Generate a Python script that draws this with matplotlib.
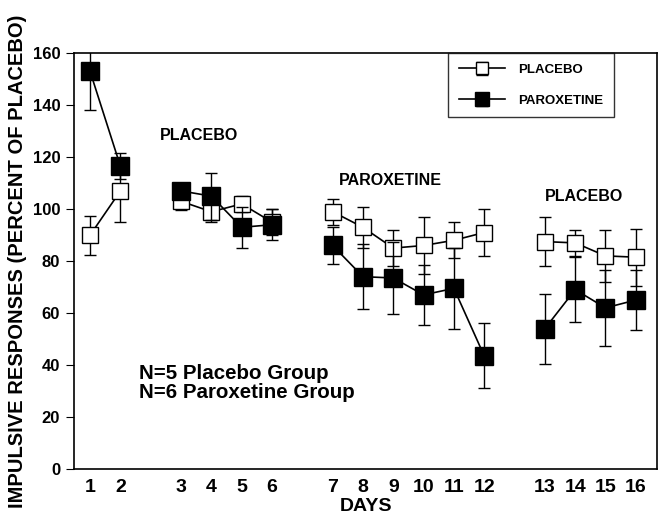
import matplotlib
matplotlib.use("Agg")
import matplotlib.pyplot as plt

plt.rcParams['font.family'] = ['Liberation Sans', 'DejaVu Sans']
plt.rcParams['font.weight'] = 'bold'

# days and their plotted slot (gaps between phases)
days = list(range(1, 17))
slots = [1, 2, 4, 5, 6, 7, 9, 10, 11, 12, 13, 14, 16, 17, 18, 19]
phases = [(0, 2), (2, 6), (6, 12), (12, 16)]

placebo = [90, 107, 103, 99, 102, 95, 99, 93, 85, 86, 88, 91, 87.5, 87, 82, 81.5]
placebo_err = [7.5, 12, 3.5, 4, 3, 5, 5, 8, 7, 11, 7, 9, 9.5, 5, 10, 11]
parox = [153, 116.5, 107, 105, 93, 94, 86, 74, 73.5, 67, 69.5, 43.5, 54, 69, 62, 65]
parox_err = [15, 5, 3, 9, 8, 6, 7, 12.5, 14, 11.5, 15.5, 12.5, 13.5, 12.5, 14.5, 11.5]

fig = plt.figure(figsize=(6.61, 5.17), dpi=100)
ax = fig.add_axes([0.112, 0.093, 0.882, 0.804])

for i, (a, b) in enumerate(phases):
    ax.errorbar(slots[a:b], placebo[a:b], yerr=placebo_err[a:b], color='black',
                marker='s', markersize=11, markerfacecolor='white', markeredgecolor='black',
                markeredgewidth=1, linewidth=1.2, elinewidth=1, capsize=4,
                label='PLACEBO' if i == 0 else None, zorder=3)
    ax.errorbar(slots[a:b], parox[a:b], yerr=parox_err[a:b], color='black',
                marker='s', markersize=12.5, markerfacecolor='black', markeredgecolor='black',
                linewidth=1.2, elinewidth=1, capsize=4,
                label='PAROXETINE' if i == 0 else None, zorder=4)

ax.set_xlim(0.47, 19.7)
ax.set_ylim(0, 160)
ax.set_xticks(slots)
ax.set_xticklabels([str(d) for d in days])
ax.set_yticks(range(0, 161, 20))
ax.tick_params(axis='x', length=0, labelsize=14, pad=7)
ax.tick_params(axis='y', direction='out', length=6, labelsize=12, pad=4)
for s in ax.spines.values():
    s.set_linewidth(1.2)

ax.set_xlabel('DAYS', fontsize=14, fontweight='bold', labelpad=2)
ax.set_ylabel('IMPULSIVE RESPONSES (PERCENT OF PLACEBO)', fontsize=14.5, fontweight='bold', labelpad=4)

ax.text(4.6, 128.5, 'PLACEBO', fontsize=11.5, fontweight='bold', ha='center', va='center')
ax.text(10.9, 111, 'PAROXETINE', fontsize=11.5, fontweight='bold', ha='center', va='center')
ax.text(17.3, 105, 'PLACEBO', fontsize=11.5, fontweight='bold', ha='center', va='center')
ax.text(2.6, 33, 'N=5 Placebo Group\nN=6 Paroxetine Group', fontsize=14.8,
        fontweight='bold', ha='left', va='center', linespacing=1.0)

leg = ax.legend(loc='upper right', bbox_to_anchor=(0.926, 1.0), borderaxespad=0,
                fontsize=9.5, frameon=True, fancybox=False, edgecolor='black',
                borderpad=0.8, labelspacing=1.4, handlelength=3.5, handletextpad=1.0,
                markerscale=0.75)
leg.get_frame().set_linewidth(1)

fig.savefig('out.png', dpi=100)
